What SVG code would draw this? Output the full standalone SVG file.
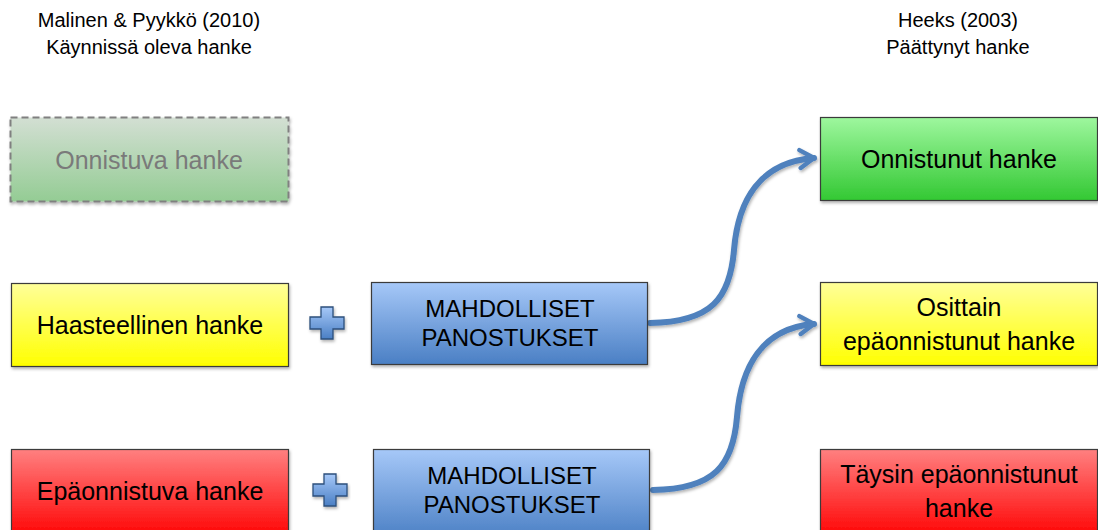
<svg xmlns="http://www.w3.org/2000/svg" width="1098" height="530" viewBox="0 0 1098 530">
<defs>
<linearGradient id="gY" x1="0" y1="0" x2="0" y2="1"><stop offset="0" stop-color="#ffff99"/><stop offset="1" stop-color="#ffff00"/></linearGradient>
<linearGradient id="gG" x1="0" y1="0" x2="0" y2="1"><stop offset="0" stop-color="#9ef79e"/><stop offset="1" stop-color="#33c833"/></linearGradient>
<linearGradient id="gF" x1="0" y1="0" x2="0" y2="1"><stop offset="0" stop-color="#d3dfd3"/><stop offset="1" stop-color="#94cc94"/></linearGradient>
<linearGradient id="gR" x1="0" y1="0" x2="0" y2="1"><stop offset="0" stop-color="#ff8080"/><stop offset="1" stop-color="#ff0000"/></linearGradient>
<linearGradient id="gB" x1="0" y1="0" x2="0" y2="1"><stop offset="0" stop-color="#a6c8f8"/><stop offset="1" stop-color="#4a7fc4"/></linearGradient>
<filter id="sh" x="-10%" y="-10%" width="120%" height="130%"><feDropShadow dx="1" dy="2" stdDeviation="1.5" flood-color="#000" flood-opacity="0.3"/></filter>
<marker id="ah" viewBox="0 0 12 12" refX="9" refY="6" markerWidth="4" markerHeight="4" orient="auto" markerUnits="strokeWidth">
<polyline points="2,1.5 9,6 2,10.5" fill="none" stroke="#4f81bd" stroke-width="2.2" stroke-linecap="round" stroke-linejoin="round"/>
</marker>
<path id="plus" d="M-6,-16 H6 V-6 H17 V6 H6 V16 H-6 V6 H-17 V-6 H-6 Z"/>
</defs>
<style>
.box{stroke:#3a3a3a;stroke-width:1.2;filter:url(#sh)}
.t{font-family:"Liberation Sans",Arial,sans-serif;font-size:25px;fill:#000;text-anchor:middle}
.m{font-size:24px}
.h{font-family:"Liberation Sans",Arial,sans-serif;font-size:20px;fill:#000;text-anchor:middle}
.conn{fill:none;stroke:#4f81bd;stroke-width:6;stroke-linecap:round;marker-end:url(#ah);filter:url(#sh)}
.pl{fill:url(#gB);stroke:#2c4f7c;stroke-width:1.3;filter:url(#sh)}
</style>
<rect width="1098" height="530" fill="#fff"/>

<g id="header-left">
<text class="h" x="149" y="27">Malinen &amp; Pyykkö (2010)</text>
<text class="h" x="149" y="54">Käynnissä oleva hanke</text>
</g>
<g id="header-right">
<text class="h" x="958" y="27">Heeks (2003)</text>
<text class="h" x="958" y="54">Päättynyt hanke</text>
</g>

<g id="connectors">
<path class="conn" d="M650,323 C712,322 730,298 734,250 C738,200 760,162 814,158"/>
<path class="conn" d="M653,490 C715,489 733,465 737,417 C741,367 762,328 814,324"/>
</g>

<g id="onnistuva">
<rect x="10.5" y="117.5" width="278" height="84" fill="url(#gF)" stroke="#808080" stroke-width="2" stroke-dasharray="7,4" style="filter:url(#sh)"/>
<text class="t" x="149" y="169" style="fill:#7a7a7a">Onnistuva hanke</text>
</g>
<g id="haasteellinen">
<rect class="box" x="11.5" y="283.5" width="277" height="83" fill="url(#gY)"/>
<text class="t" x="150" y="334">Haasteellinen hanke</text>
</g>
<g id="epaonnistuva">
<rect class="box" x="11.5" y="449.5" width="277" height="90" fill="url(#gR)"/>
<text class="t" x="150" y="500">Epäonnistuva hanke</text>
</g>

<g id="plus1"><use href="#plus" class="pl" transform="translate(327,323)"/></g>
<g id="plus2"><use href="#plus" class="pl" transform="translate(330,490)"/></g>

<g id="panostukset1">
<rect class="box" x="371.5" y="282.5" width="276" height="82" fill="url(#gB)"/>
<text class="t m" x="510" y="317">MAHDOLLISET</text>
<text class="t m" x="510" y="346">PANOSTUKSET</text>
</g>
<g id="panostukset2">
<rect class="box" x="373.5" y="449.5" width="276" height="90" fill="url(#gB)"/>
<text class="t m" x="512" y="484">MAHDOLLISET</text>
<text class="t m" x="512" y="513">PANOSTUKSET</text>
</g>

<g id="onnistunut">
<rect class="box" x="820.5" y="117.5" width="277" height="83" fill="url(#gG)"/>
<text class="t" x="959" y="168">Onnistunut hanke</text>
</g>
<g id="osittain">
<rect class="box" x="820.5" y="282.5" width="277" height="83" fill="url(#gY)"/>
<text class="t" x="959" y="316">Osittain</text>
<text class="t" x="959" y="350">epäonnistunut hanke</text>
</g>
<g id="taysin">
<rect class="box" x="820.5" y="449.5" width="277" height="90" fill="url(#gR)"/>
<text class="t" x="959" y="483">Täysin epäonnistunut</text>
<text class="t" x="959" y="517">hanke</text>
</g>
</svg>
